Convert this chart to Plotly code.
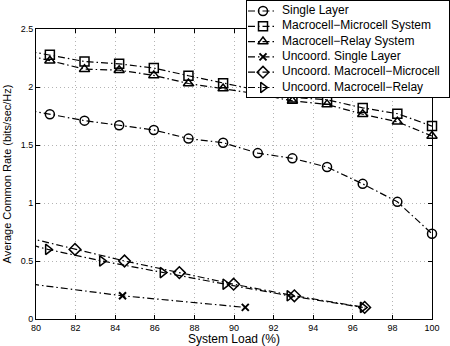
import plotly.graph_objects as go

# x positions of markers (system load %)
load_a = [78.95, 80.7, 82.45, 84.2, 85.95, 87.7, 89.45, 91.2, 92.95, 94.7, 96.5, 98.25, 100]
single_layer = [1.82, 1.765, 1.71, 1.67, 1.63, 1.555, 1.52, 1.43, 1.385, 1.31, 1.165, 1.01, 0.735]
macro_micro = [2.33, 2.277, 2.22, 2.20, 2.163, 2.097, 2.033, 1.97, 1.91, 1.89, 1.82, 1.77, 1.663]
macro_relay = [2.30, 2.226, 2.154, 2.145, 2.10, 2.03, 1.987, 1.94, 1.88, 1.85, 1.765, 1.70, 1.577]

unc_single_x = [79.8, 84.37, 90.57]
unc_single_y = [0.3, 0.2, 0.1]
unc_micro_x = [79.6, 81.97, 84.47, 87.24, 89.98, 93.05, 96.6]
unc_micro_y = [0.7, 0.6, 0.5, 0.4, 0.3, 0.2, 0.1]
unc_relay_x = [78.4, 80.6, 83.33, 86.39, 89.56, 92.8, 96.5]
unc_relay_y = [0.7, 0.6, 0.5, 0.4, 0.3, 0.2, 0.1]

series = [
    ("Single Layer", load_a, single_layer, "circle-open"),
    ("Macrocell\u2212Microcell System", load_a, macro_micro, "square-open"),
    ("Macrocell\u2212Relay System", load_a, macro_relay, "triangle-up-open"),
    ("Uncoord. Single Layer", unc_single_x, unc_single_y, "x-thin-open"),
    ("Uncoord. Macrocell\u2212Microcell", unc_micro_x, unc_micro_y, "diamond-open"),
    ("Uncoord. Macrocell\u2212Relay", unc_relay_x, unc_relay_y, "triangle-right-open"),
]

DASH = "7px,3px,1.5px,3px"
W, H = 450, 346
ML, MB = 36, 27
PW, PH = W - ML, H - MB  # paper drawing area (no top/right margin)

# main plot box in pixels
x0, x1, ytop = 36, 432, 29
# legend box in pixels
lx0, lx1, ly0, ly1 = 247, 449, 1, 97


def marker_for(sym, opac=None):
    m = dict(symbol=sym, size=9, color="black", line=dict(width=1.5, color="black"))
    if sym == "x-thin-open":
        m["size"] = 7
        m["line"]["width"] = 2
    if opac is not None:
        m["opacity"] = opac
    return m


fig = go.Figure()
for name, xs, ys, sym in series:
    fig.add_trace(go.Scatter(
        x=xs, y=ys, name=name, mode="lines+markers", cliponaxis=False,
        line=dict(color="black", width=1.2, dash=DASH),
        marker=marker_for(sym, [1 if 80 <= v <= 100 else 0 for v in xs]),
        xaxis="x", yaxis="y",
    ))

# hand-made legend in a small overlapping subplot (box-relative pixel units)
for i, (name, xs, ys, sym) in enumerate(series):
    ry = 10 + 15.3 * i
    fig.add_trace(go.Scatter(
        x=[1, 30], y=[ry, ry], mode="lines",
        line=dict(color="black", width=1.2, dash=DASH),
        xaxis="x2", yaxis="y2", hoverinfo="skip",
    ))
    fig.add_trace(go.Scatter(
        x=[16], y=[ry], mode="markers", marker=marker_for(sym),
        xaxis="x2", yaxis="y2", hoverinfo="skip", cliponaxis=False,
    ))
    fig.add_trace(go.Scatter(
        x=[35], y=[ry], mode="text", text=[name], textposition="middle right",
        textfont=dict(size=12, color="black"), cliponaxis=False,
        xaxis="x2", yaxis="y2", hoverinfo="skip",
    ))

axis_common = dict(
    showline=True, mirror="ticks", linecolor="black", linewidth=1,
    ticks="inside", ticklen=4, tickcolor="black",
    showgrid=True, gridcolor="#b4b4b4", griddash="1px,3px", gridwidth=1,
    zeroline=False, tickfont=dict(size=9, color="black"), automargin=False,
)
legend_axis = dict(showline=True, mirror=True, linecolor="black", linewidth=1,
                   showgrid=False, zeroline=False, showticklabels=False, ticks="",
                   automargin=False, fixedrange=True)

fig.update_layout(
    template="none",
    width=W, height=H,
    margin=dict(l=ML, r=0, t=0, b=MB, pad=0),
    paper_bgcolor="white", plot_bgcolor="white",
    font=dict(family="Liberation Sans, Arial, sans-serif", color="black"),
    showlegend=False,
    xaxis=dict(domain=[0, (x1 - ML) / PW], range=[80, 100], dtick=2,
               title=dict(text="System Load (%)", font=dict(size=12), standoff=3), **axis_common),
    yaxis=dict(domain=[0, (PH - ytop) / PH], range=[0, 2.5], dtick=0.5,
               title=dict(text="Average Common Rate (bits/sec/Hz)", font=dict(size=11), standoff=6), **axis_common),
    xaxis2=dict(domain=[(lx0 - ML) / PW, (lx1 - ML) / PW], range=[0, lx1 - lx0],
                anchor="y2", **legend_axis),
    yaxis2=dict(domain=[(PH - ly1) / PH, (PH - ly0) / PH], range=[ly1 - ly0, 0],
                anchor="x2", **legend_axis),
)

# drop the browser's default 8px body margin so the figure sits at (0, 0)
fig.write_html("out.html", config={"displayModeBar": False},
               post_script="document.body.style.margin='0px';")
